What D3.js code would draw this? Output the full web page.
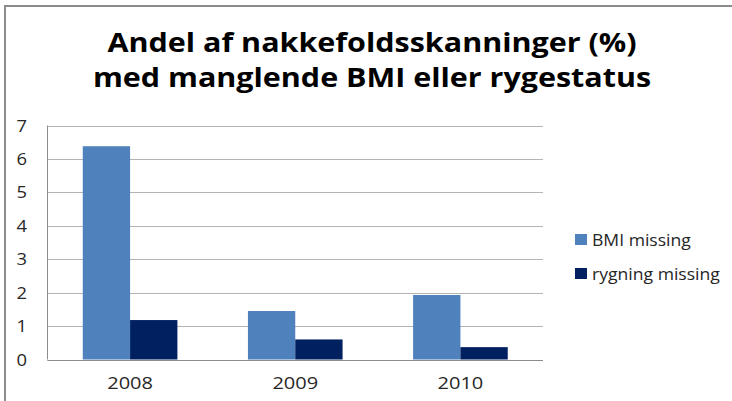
<!DOCTYPE html>
<html>
<head>
<meta charset="utf-8">
<script src="https://cdn.jsdelivr.net/npm/d3@7"></script>
<style>
  body { margin: 0; background: #fff; }
  svg { display: block; }
</style>
</head>
<body>
<svg id="chart" width="732" height="401"></svg>
<script>
var years = ["2008", "2009", "2010"];
var seriesNames = ["BMI missing", "rygning missing"];
var bmiMissing = [6.38, 1.45, 1.93];
var rygningMissing = [1.18, 0.6, 0.37];
var yTicks = [0, 1, 2, 3, 4, 5, 6, 7];
var titleLines = ["Andel af nakkefoldsskanninger (%)", "med manglende BMI eller rygestatus"];

var colors = ["#4F81BD", "#002060"];

function drawChart() {
    var svg = d3.select("#chart");

    // chart frame (only left and top edges show in the crop)
    svg.append("path")
        .attr("d", "M5,401 V6 H732")
        .attr("fill", "none")
        .attr("stroke", "#8c8c8c")
        .attr("stroke-width", 2);

    var plotLeft = 47.5, plotRight = 543, plotTop = 125.5, plotBottom = 359.5;
    var stretch = 1.15; // the reference text is a bit wide

    var y = d3.scaleLinear().domain([0, 7]).range([plotBottom, plotTop]);
    var x0 = d3.scaleBand().domain(years).range([plotLeft, plotRight])
        .paddingInner(0.427).paddingOuter(0.2135);
    var x1 = d3.scaleBand().domain(seriesNames).range([0, x0.bandwidth()]);

    // gridlines
    svg.append("g").selectAll("line")
        .data(yTicks)
        .enter().append("line")
        .attr("x1", plotLeft).attr("x2", plotRight)
        .attr("y1", function(d) { return Math.round(y(d)) + 0.5; })
        .attr("y2", function(d) { return Math.round(y(d)) + 0.5; })
        .attr("stroke", "#b3b3b3")
        .attr("stroke-width", 1);

    // y labels
    svg.append("g").selectAll("text")
        .data(yTicks)
        .enter().append("text")
        .attr("transform", function(d) { return "translate(27," + (y(d) + 6) + ") scale(" + stretch + ",1)"; })
        .attr("text-anchor", "end")
        .style("font-family", "'Open Sans', sans-serif")
        .style("font-size", "16px")
        .style("fill", "#262626")
        .text(function(d) { return d; });

    // bars
    var rows = years.map(function(yr, i) {
        return { year: yr, values: [bmiMissing[i], rygningMissing[i]] };
    });

    var groups = svg.append("g").selectAll("g")
        .data(rows)
        .enter().append("g")
        .attr("transform", function(d) { return "translate(" + x0(d.year) + ",0)"; });

    groups.selectAll("rect")
        .data(function(d) { return d.values.map(function(v, j) { return { key: seriesNames[j], value: v, j: j }; }); })
        .enter().append("rect")
        .attr("x", function(d) { return x1(d.key); })
        .attr("y", function(d) { return y(d.value); })
        .attr("width", x1.bandwidth())
        .attr("height", function(d) { return plotBottom - y(d.value); })
        .attr("fill", function(d) { return colors[d.j]; });

    // axis lines
    svg.append("line")
        .attr("x1", plotLeft).attr("x2", plotLeft)
        .attr("y1", plotTop).attr("y2", plotBottom)
        .attr("stroke", "#8c8c8c");
    svg.append("line")
        .attr("x1", plotLeft).attr("x2", plotRight)
        .attr("y1", Math.round(plotBottom) + 0.5).attr("y2", Math.round(plotBottom) + 0.5)
        .attr("stroke", "#8c8c8c");

    // x labels
    svg.append("g").selectAll("text")
        .data(years)
        .enter().append("text")
        .attr("transform", function(d) { return "translate(" + (x0(d) + x0.bandwidth() / 2) + ",389) scale(" + (stretch + 0.1) + ",1)"; })
        .attr("text-anchor", "middle")
        .style("font-family", "'Open Sans', sans-serif")
        .style("font-size", "16px")
        .style("fill", "#262626")
        .text(function(d) { return d; });

    // title
    svg.append("g").selectAll("text")
        .data(titleLines)
        .enter().append("text")
        .attr("transform", function(d, i) { return "translate(372," + (52 + i * 35) + ") scale(" + stretch + ",1)"; })
        .attr("text-anchor", "middle")
        .style("font-family", "'Open Sans', sans-serif")
        .style("font-weight", "bold")
        .style("font-size", "26.5px")
        .style("fill", "#000")
        .text(function(d) { return d; });

    // legend
    var legend = svg.append("g").selectAll("g")
        .data(seriesNames)
        .enter().append("g")
        .attr("transform", function(d, i) { return "translate(575," + (234 + i * 34) + ")"; });

    legend.append("rect")
        .attr("width", 12).attr("height", 11)
        .attr("fill", function(d, i) { return colors[i]; });

    legend.append("text")
        .attr("transform", "translate(17,12) scale(1.1,1)")
        .style("font-family", "'Open Sans', sans-serif")
        .style("font-size", "16px")
        .style("fill", "#262626")
        .text(function(d) { return d; });
}

drawChart();
</script>
</body>
</html>
